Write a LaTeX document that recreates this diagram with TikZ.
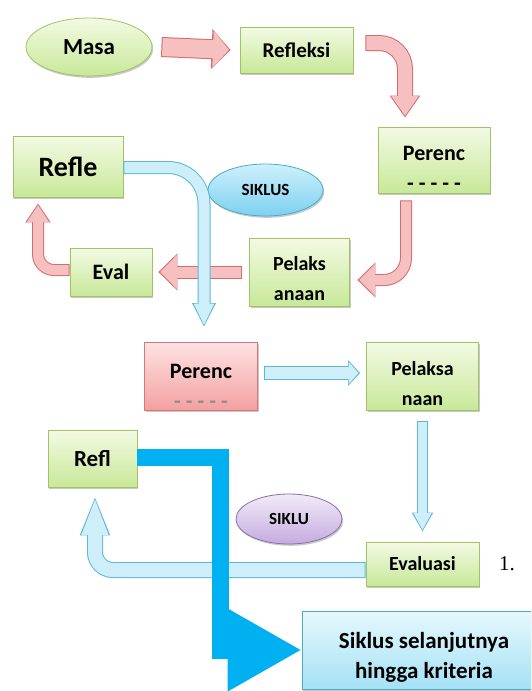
\documentclass[tikz,border=0pt]{standalone}
\usepackage{fontspec}
\setmainfont{Carlito}
\newfontfamily\numfont{Liberation Serif}
\usetikzlibrary{arrows.meta,shapes.geometric,shadows}
\definecolor{gT}{RGB}{243,250,228}
\definecolor{gD}{RGB}{200,232,152}
\definecolor{gB}{RGB}{160,196,100}
\definecolor{pT}{RGB}{255,226,226}
\definecolor{pD}{RGB}{243,160,160}
\definecolor{pB}{RGB}{212,120,120}
\definecolor{cT}{RGB}{230,248,253}
\definecolor{cD}{RGB}{165,225,245}
\definecolor{cB}{RGB}{75,172,198}
\definecolor{eT}{RGB}{206,240,252}
\definecolor{eD}{RGB}{125,208,240}
\definecolor{vT}{RGB}{242,234,248}
\definecolor{vD}{RGB}{196,172,224}
\definecolor{vB}{RGB}{140,110,175}
\definecolor{rB}{RGB}{212,108,108}
\definecolor{rF}{RGB}{247,192,192}
\definecolor{bB}{RGB}{92,184,214}
\definecolor{bF}{RGB}{206,239,250}
\definecolor{thick}{RGB}{0,176,240}
\newcommand{\barrow}[3]{\draw[#1] #3; \draw[#2] #3;}
\newcommand{\pushdown}[1]{\rule{0pt}{#1}}
\begin{document}
\begin{tikzpicture}[x=1pt,y=-1pt,
  shade/.style={drop shadow={shadow xshift=1.2pt,shadow yshift=-1.8pt,opacity=0.3,fill=black!70}},
  gbox/.style={rectangle, draw=gB, line width=0.8pt, top color=gT, bottom color=gD, shade, inner sep=0pt, align=center, font=\bfseries},
  pbox/.style={gbox, draw=pB, top color=pT, bottom color=pD},
  cbox/.style={gbox, draw=cB, top color=cT, bottom color=cD},
  gell/.style={ellipse, draw=gB, line width=0.8pt, top color=gT, bottom color=gD, shade, inner sep=0pt, font=\bfseries},
  bell/.style={gell, draw=cB, top color=eT, bottom color=eD},
  vell/.style={gell, draw=vB, top color=vT, bottom color=vD},
  outR/.style n args={3}{draw=rB, line width=#1, -{Triangle[width=#2,length=#3]}},
  inR/.style n args={3}{draw=rF, line width=#1, -{Triangle[width=#2,length=#3]}, shorten >=1.6pt, shorten <=1pt},
  outB/.style n args={3}{draw=bB, line width=#1, -{Triangle[width=#2,length=#3]}},
  inB/.style n args={3}{draw=bF, line width=#1, -{Triangle[width=#2,length=#3]}, shorten >=1.6pt, shorten <=1pt},
  bigarrow/.style={draw=thick, line width=17pt, line join=miter, -{Triangle[width=78pt,length=74pt]}}
]
\clip (0,0) rectangle (531,691);
\fill[white] (0,0) rectangle (531,691);

% nodes
\node[gell, minimum width=126pt, minimum height=58pt, font=\bfseries\fontsize{23}{26}\selectfont] (masa) at (89,47) {Masa};
\node[gbox, minimum width=113pt, minimum height=46pt, font=\bfseries\fontsize{21}{24}\selectfont] (refleksi) at (296.5,50) {Refleksi};
\node[gbox, minimum width=112pt, minimum height=66pt, font=\bfseries\fontsize{22}{30}\selectfont] (perenc1) at (434,160) {\pushdown{30pt}Perenc\\- - - - -};
\node[gbox, minimum width=100pt, minimum height=68pt, font=\bfseries\fontsize{20}{30}\selectfont] (pelaks) at (299.5,272) {\pushdown{27pt}Pelaks\\anaan};
\node[gbox, minimum width=82pt, minimum height=48pt, font=\bfseries\fontsize{22}{26}\selectfont] (eval) at (111,272) {Eval};
\node[gbox, minimum width=110pt, minimum height=61pt, font=\bfseries\fontsize{28}{32}\selectfont] (refle) at (68,166.5) {Refle};
\node[bell, minimum width=115pt, minimum height=52pt, font=\bfseries\fontsize{17}{20}\selectfont] (siklus1) at (265.5,190) {SIKLUS};
\node[pbox, minimum width=113pt, minimum height=68pt, font=\bfseries\fontsize{22}{30}\selectfont] (perenc2) at (201,376.5) {\pushdown{33pt}Perenc\\\textcolor{black!45}{- - - - -}};
\node[gbox, minimum width=112pt, minimum height=68pt, font=\bfseries\fontsize{20}{30}\selectfont] (pelaksa) at (422.5,376.5) {\pushdown{29pt}Pelaksa\\naan};
\node[gbox, minimum width=89pt, minimum height=57pt, font=\bfseries\fontsize{23}{26}\selectfont] (refl) at (92.5,458.5) {Refl};
\node[vell, minimum width=106pt, minimum height=50pt, font=\bfseries\fontsize{17}{20}\selectfont] (siklu) at (289,519) {SIKLU};
\node[gbox, minimum width=113pt, minimum height=44pt, font=\bfseries\fontsize{20}{24}\selectfont] (evaluasi) at (422.5,564) {Evaluasi};
\node[anchor=west, font=\numfont\fontsize{21}{24}\selectfont, inner sep=0pt] (num) at (499,564) {1.};
\node[cbox, minimum width=244pt, minimum height=78pt, font=\bfseries\fontsize{23}{30}\selectfont] (siklusbox) at (424,650) {\pushdown{31pt}Siklus selanjutnya\\hingga kriteria};

% red arrows
\barrow{outR={20pt}{39pt}{19pt}}{inR={18pt}{36pt}{16pt}}{([xshift=9pt]masa.east) -- ([xshift=-9pt]refleksi.west)}
\barrow{outR={16pt}{29pt}{22pt}, rounded corners=26pt}{inR={14pt}{26pt}{20pt}, rounded corners=26pt}{([xshift=12pt,yshift=7pt]refleksi.east) -| ([xshift=-29pt,yshift=9pt]perenc1.north)}
\barrow{outR={12pt}{34pt}{18pt}, rounded corners=22pt}{inR={10pt}{31pt}{16pt}, rounded corners=22pt}{([xshift=-28pt,yshift=-7pt]perenc1.south) |- ([xshift=7.5pt,yshift=-8pt]pelaks.east)}
\barrow{outR={13pt}{36pt}{19pt}}{inR={11pt}{33pt}{17pt}}{([xshift=-7pt]pelaks.west) -- ([xshift=6pt]eval.east)}
\barrow{outR={12pt}{24pt}{19pt}, rounded corners=16pt}{inR={10pt}{21pt}{17pt}, rounded corners=16pt}{([yshift=2pt]eval.west) -| ([xshift=-30pt,yshift=-6pt]refle.south)}

% blue arrows
\barrow{outB={13pt}{22pt}{24pt}, rounded corners=36pt}{inB={11pt}{19pt}{22pt}, rounded corners=36pt}{([yshift=-1pt]refle.east) -| ([xshift=3pt,yshift=15pt]perenc2.north)}
\barrow{outB={14pt}{25pt}{12pt}}{inB={12pt}{22pt}{10pt}}{([xshift=6pt,yshift=3.5pt]perenc2.east) -- ([xshift=-6pt,yshift=3.5pt]pelaksa.west)}
\barrow{outB={11pt}{20pt}{19pt}}{inB={9pt}{17pt}{17pt}}{([yshift=-10pt]pelaksa.south) -- ([yshift=10pt]evaluasi.north)}
\barrow{outB={16pt}{27pt}{40pt}, rounded corners=18pt}{inB={14pt}{24pt}{38pt}, rounded corners=18pt}{([yshift=-6pt]evaluasi.west) -| ([xshift=2.5pt,yshift=-8pt]refl.south)}

% thick cyan arrow
\draw[bigarrow] ([yshift=1.5pt]refl.east) -| ([xshift=-81.5pt]siklusbox.west) -- (siklusbox.west);
\end{tikzpicture}
\end{document}
